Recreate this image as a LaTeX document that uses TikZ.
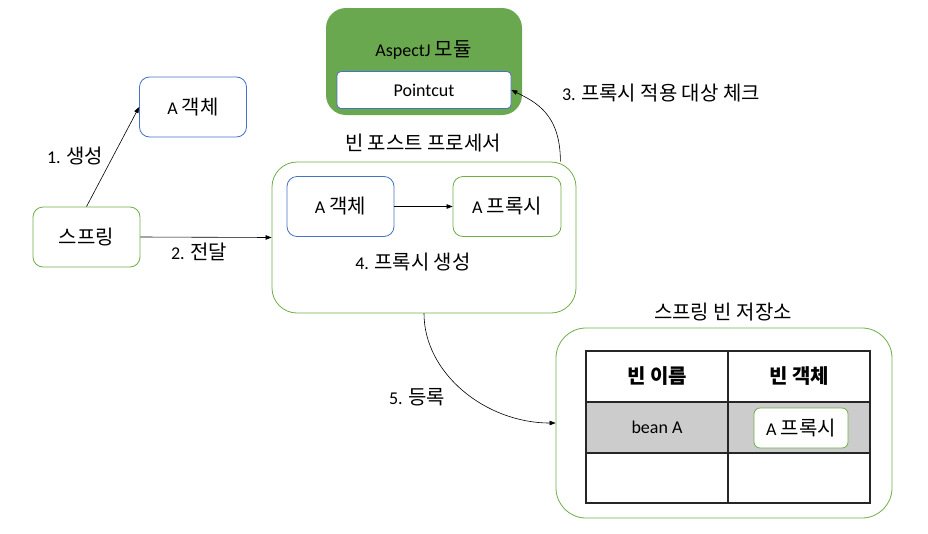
\documentclass[tikz,border=0pt]{standalone}
\usepackage{fontspec}
\setmainfont{Carlito}
\newfontfamily\ko{Noto Sans CJK KR}[Scale=1.11]
\usetikzlibrary{arrows.meta}

\definecolor{grn}{RGB}{112,173,71}
\definecolor{blu}{RGB}{68,114,196}
\definecolor{modfill}{RGB}{106,168,79}
\definecolor{rowgray}{RGB}{204,204,204}

\tikzset{
  txt/.style={font=\fontsize{18}{21}\selectfont, inner sep=0pt},
  card/.style={txt, rounded corners=10pt, line width=0.8pt, fill=white,
               minimum width=107pt, minimum height=60pt},
  gcard/.style={card, draw=grn},
  bcard/.style={card, draw=blu},
  frame/.style={draw=grn, line width=0.8pt, rounded corners=25pt},
  cell/.style={txt, draw=black!85, line width=1.1pt,
               minimum width=142pt, minimum height=51pt},
  arr/.style={-{Triangle[length=6pt,width=4.5pt]}, line width=0.6pt, black},
}

\begin{document}
\begin{tikzpicture}[x=1pt,y=-1pt]
  \useasboundingbox (0,0) rectangle (928,533);

  % creation of the object by the container
  \node[bcard] (aobj) at (193,107) {A {\ko 객체}};
  \node[gcard] (spring) at (86.5,237) {{\ko 스프링}};

  % bean post processor
  \node[frame, minimum width=304pt, minimum height=151pt] (bpp) at (424,237.5) {};
  \node[txt] (bpptitle) at (423,143) {{\ko 빈 포스트 프로세서}};
  \node[bcard] (inobj) at (340.5,206.5) {A {\ko 객체}};
  \node[gcard, minimum width=108pt] (inproxy) at (507,206.5) {A {\ko 프록시}};
  \node[txt] (lbl4) at (413,262) {4. {\ko 프록시 생성}};

  % AspectJ module with its pointcut
  \node[fill=modfill, rounded corners=20pt, minimum width=196pt, minimum height=107pt] (aspect) at (424,61.5) {};
  \node[txt] (aspecttitle) at (423.5,50) {AspectJ {\ko 모듈}};
  \node[txt, draw=blu, fill=white, line width=0.8pt, rounded corners=4pt,
        minimum width=174pt, minimum height=37pt] (pointcut) at (424,90) {Pointcut};

  % bean storage
  \node[frame, rounded corners=30pt, minimum width=336pt, minimum height=190pt] (store) at (724,423) {};
  \node[txt] (storetitle) at (723,312) {{\ko 스프링 빈 저장소}};

  \node[cell] (h1) at (657,376.5) {{\ko\bfseries 빈 이름}};
  \node[cell] (h2) at (799,376.5) {{\ko\bfseries 빈 객체}};
  \node[cell, fill=rowgray] (r1) at (657,427.5) {bean A};
  \node[cell, fill=rowgray] (r2) at (799,427.5) {};
  \node[cell, minimum height=50pt] (e1) at (657,478) {};
  \node[cell, minimum height=50pt] (e2) at (799,478) {};
  \node[gcard, rounded corners=6pt, minimum width=94pt, minimum height=40pt] (tproxy) at (801,428) {A {\ko 프록시}};

  % connectors
  \draw[arr] (spring.north) -- (aobj.west);
  \node[txt] (lbl1) at (75,156) {1. {\ko 생성}};

  \draw[arr] (spring.east) -- (bpp.west);
  \node[txt] (lbl2) at (199,252) {2. {\ko 전달}};

  \draw[arr] (inobj) -- (inproxy);

  \draw[arr] ([xshift=-16pt]bpp.north east) .. controls +(0,-48) and +(24,12) .. (pointcut.east);
  \node[txt] (lbl3) at (661,93) {3. {\ko 프록시 적용 대상 체크}};

  \draw[arr] (bpp.south) .. controls +(0,60) and +(-70,0) .. (store.west);
  \node[txt] (lbl5) at (417,397) {5. {\ko 등록}};
\end{tikzpicture}
\end{document}
